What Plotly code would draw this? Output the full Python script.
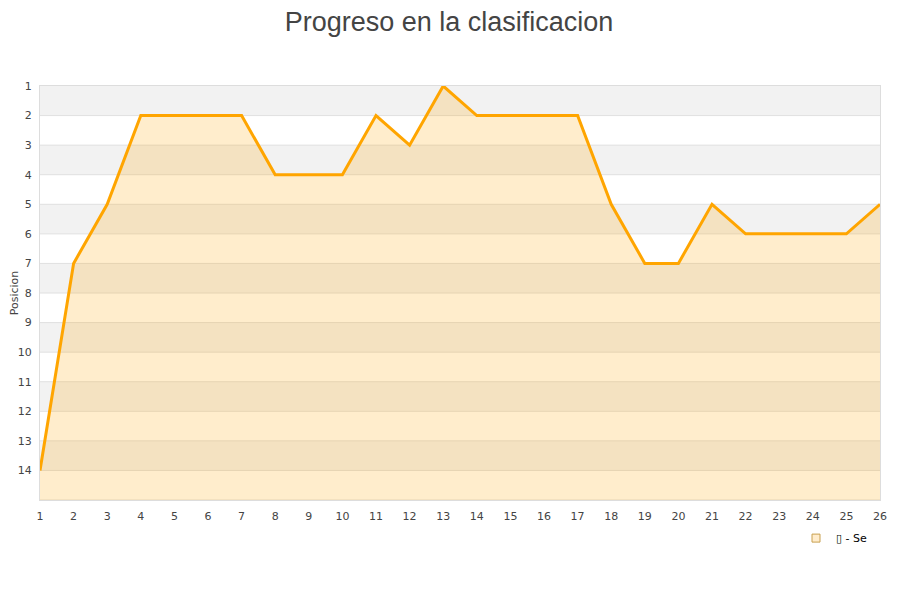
import plotly.graph_objects as go

jornadas = list(range(1, 27))
posiciones = [14, 7, 5, 2, 2, 2, 2, 4, 4, 4, 2, 3, 1, 2, 2, 2, 2, 5, 7, 7, 5, 6, 6, 6, 6, 5]
y_ticks = list(range(1, 15))
serie_nombre = "\u25af - Se"
titulo = "Progreso en la clasificacion"

fig = go.Figure()

# alternating background bands
shapes = []
for k in range(1, 15, 2):
    shapes.append(dict(type="rect", xref="paper", yref="y", x0=0, x1=1, y0=k, y1=k + 1,
                       fillcolor="#f2f2f2", line=dict(width=0), layer="below"))
for k in range(2, 16):
    shapes.append(dict(type="line", xref="paper", yref="y", x0=0, x1=1, y0=k, y1=k,
                       line=dict(color="#e0e0e0", width=1), layer="below"))

fig.add_trace(go.Scatter(x=jornadas, y=[15] * len(jornadas), mode="lines",
                         line=dict(width=0), hoverinfo="skip", showlegend=False))
fig.add_trace(go.Scatter(x=jornadas, y=posiciones, mode="lines", fill="tonexty",
                         fillcolor="rgba(255,165,0,0.2)",
                         line=dict(color="#FFA500", width=3), showlegend=False))
fig.add_trace(go.Scatter(x=[None], y=[None], mode="markers", name=serie_nombre,
                         marker=dict(symbol="square", size=8, color="#ffeccc",
                                     line=dict(color="#c8a050", width=1))))

fig.update_layout(
    width=900, height=600,
    plot_bgcolor="white", paper_bgcolor="white",
    margin=dict(l=32, r=28, t=78, b=108, autoexpand=False),
    title=dict(text=titulo, x=0.49, xanchor="center", y=0.993, yref="container",
               yanchor="top", pad=dict(t=0, b=0),
               font=dict(family="Liberation Sans", size=27, color="#444444")),
    font=dict(family="DejaVu Sans", size=11, color="#444444"),
    shapes=shapes,
    showlegend=True,
    legend=dict(x=0.9, y=-0.057, xanchor="left", yanchor="top", orientation="h",
                bgcolor="rgba(0,0,0,0)", font=dict(size=11, color="#000000"),
                itemwidth=30),
    xaxis=dict(range=[1, 26], tickmode="array", tickvals=jornadas, automargin=False,
               showgrid=False, zeroline=False, showline=True, linecolor="#dddddd",
               mirror=True, ticks="", ticklabelstandoff=6,
               tickfont=dict(size=11, color="#444444")),
    yaxis=dict(range=[15, 1], tickmode="array", tickvals=y_ticks, automargin=False,
               showgrid=False, zeroline=False, showline=True, linecolor="#dddddd",
               mirror=True, ticks="", ticklabelstandoff=5,
               title=dict(text="Posicion", font=dict(size=11, color="#444444"), standoff=9),
               tickfont=dict(size=11, color="#444444")),
)

fig.write_html("out.html")
